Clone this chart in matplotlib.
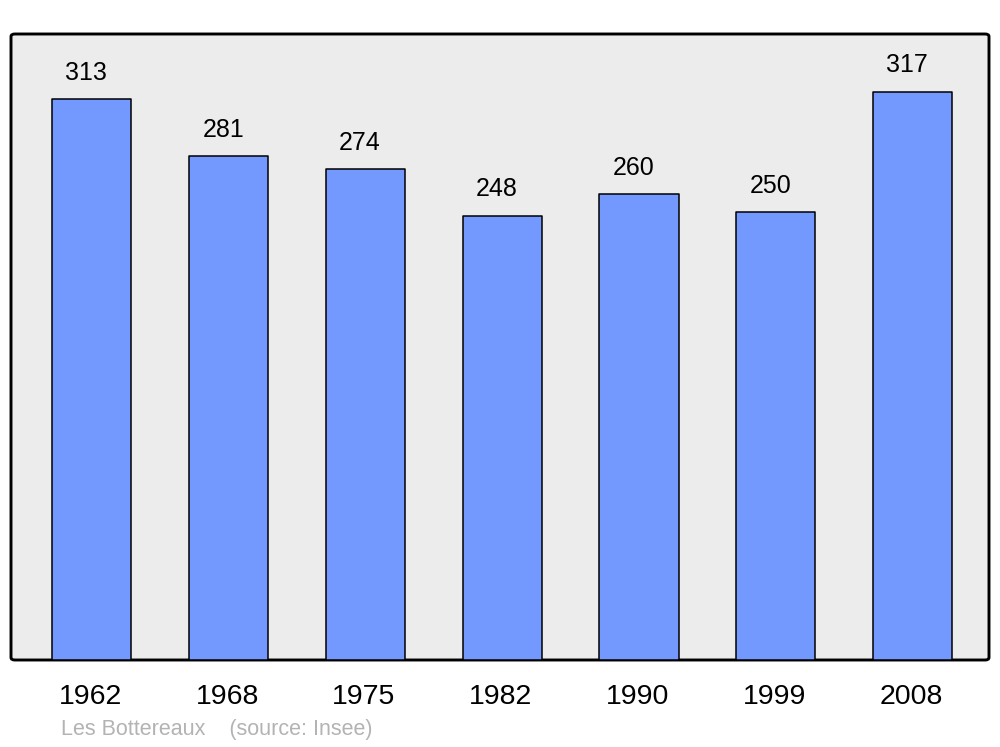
import matplotlib.pyplot as plt
from matplotlib.patches import FancyBboxPatch

plt.rcParams['font.family'] = ['Liberation Sans', 'DejaVu Sans']

years = ['1962', '1968', '1975', '1982', '1990', '1999', '2008']
population = [313, 281, 274, 248, 260, 250, 317]

fig = plt.figure(figsize=(10, 7.47), dpi=100)
ax = fig.add_axes([0.011, 87 / 747, 0.978, 626 / 747])
ax.set_facecolor('none')

# rounded frame behind the bars
frame = FancyBboxPatch((0, 0), 1, 1, boxstyle='round,pad=0,rounding_size=0.004',
                       transform=ax.transAxes, facecolor='#ececec',
                       edgecolor='black', linewidth=2.1, zorder=0, clip_on=False)
ax.add_patch(frame)
for s in ax.spines.values():
    s.set_visible(False)

x = range(len(years))
bars = ax.bar(x, population, width=0.578, color='#7399ff', edgecolor='black',
              linewidth=1.1, zorder=2)
for b in bars:
    b.set_joinstyle('round')

for xi, v in zip(x, population):
    ax.annotate(str(v), (xi, v), xytext=(-4, 19), textcoords='offset points',
                ha='center', va='center', fontsize=18)

ax.set_xlim(-0.592, 6.559)
ax.set_ylim(0, 349.3)
ax.set_yticks([])
ax.set_xticks([xi - 0.012 for xi in x])
ax.set_xticklabels(years, fontsize=20.5)
ax.tick_params(axis='x', length=0, pad=17)

fig.text(0.061, 1 - 730 / 747, 'Les Bottereaux    (source: Insee)',
         fontsize=15.5, color='#b3b3b3', ha='left', va='center')

fig.savefig('out.png', dpi=100)
